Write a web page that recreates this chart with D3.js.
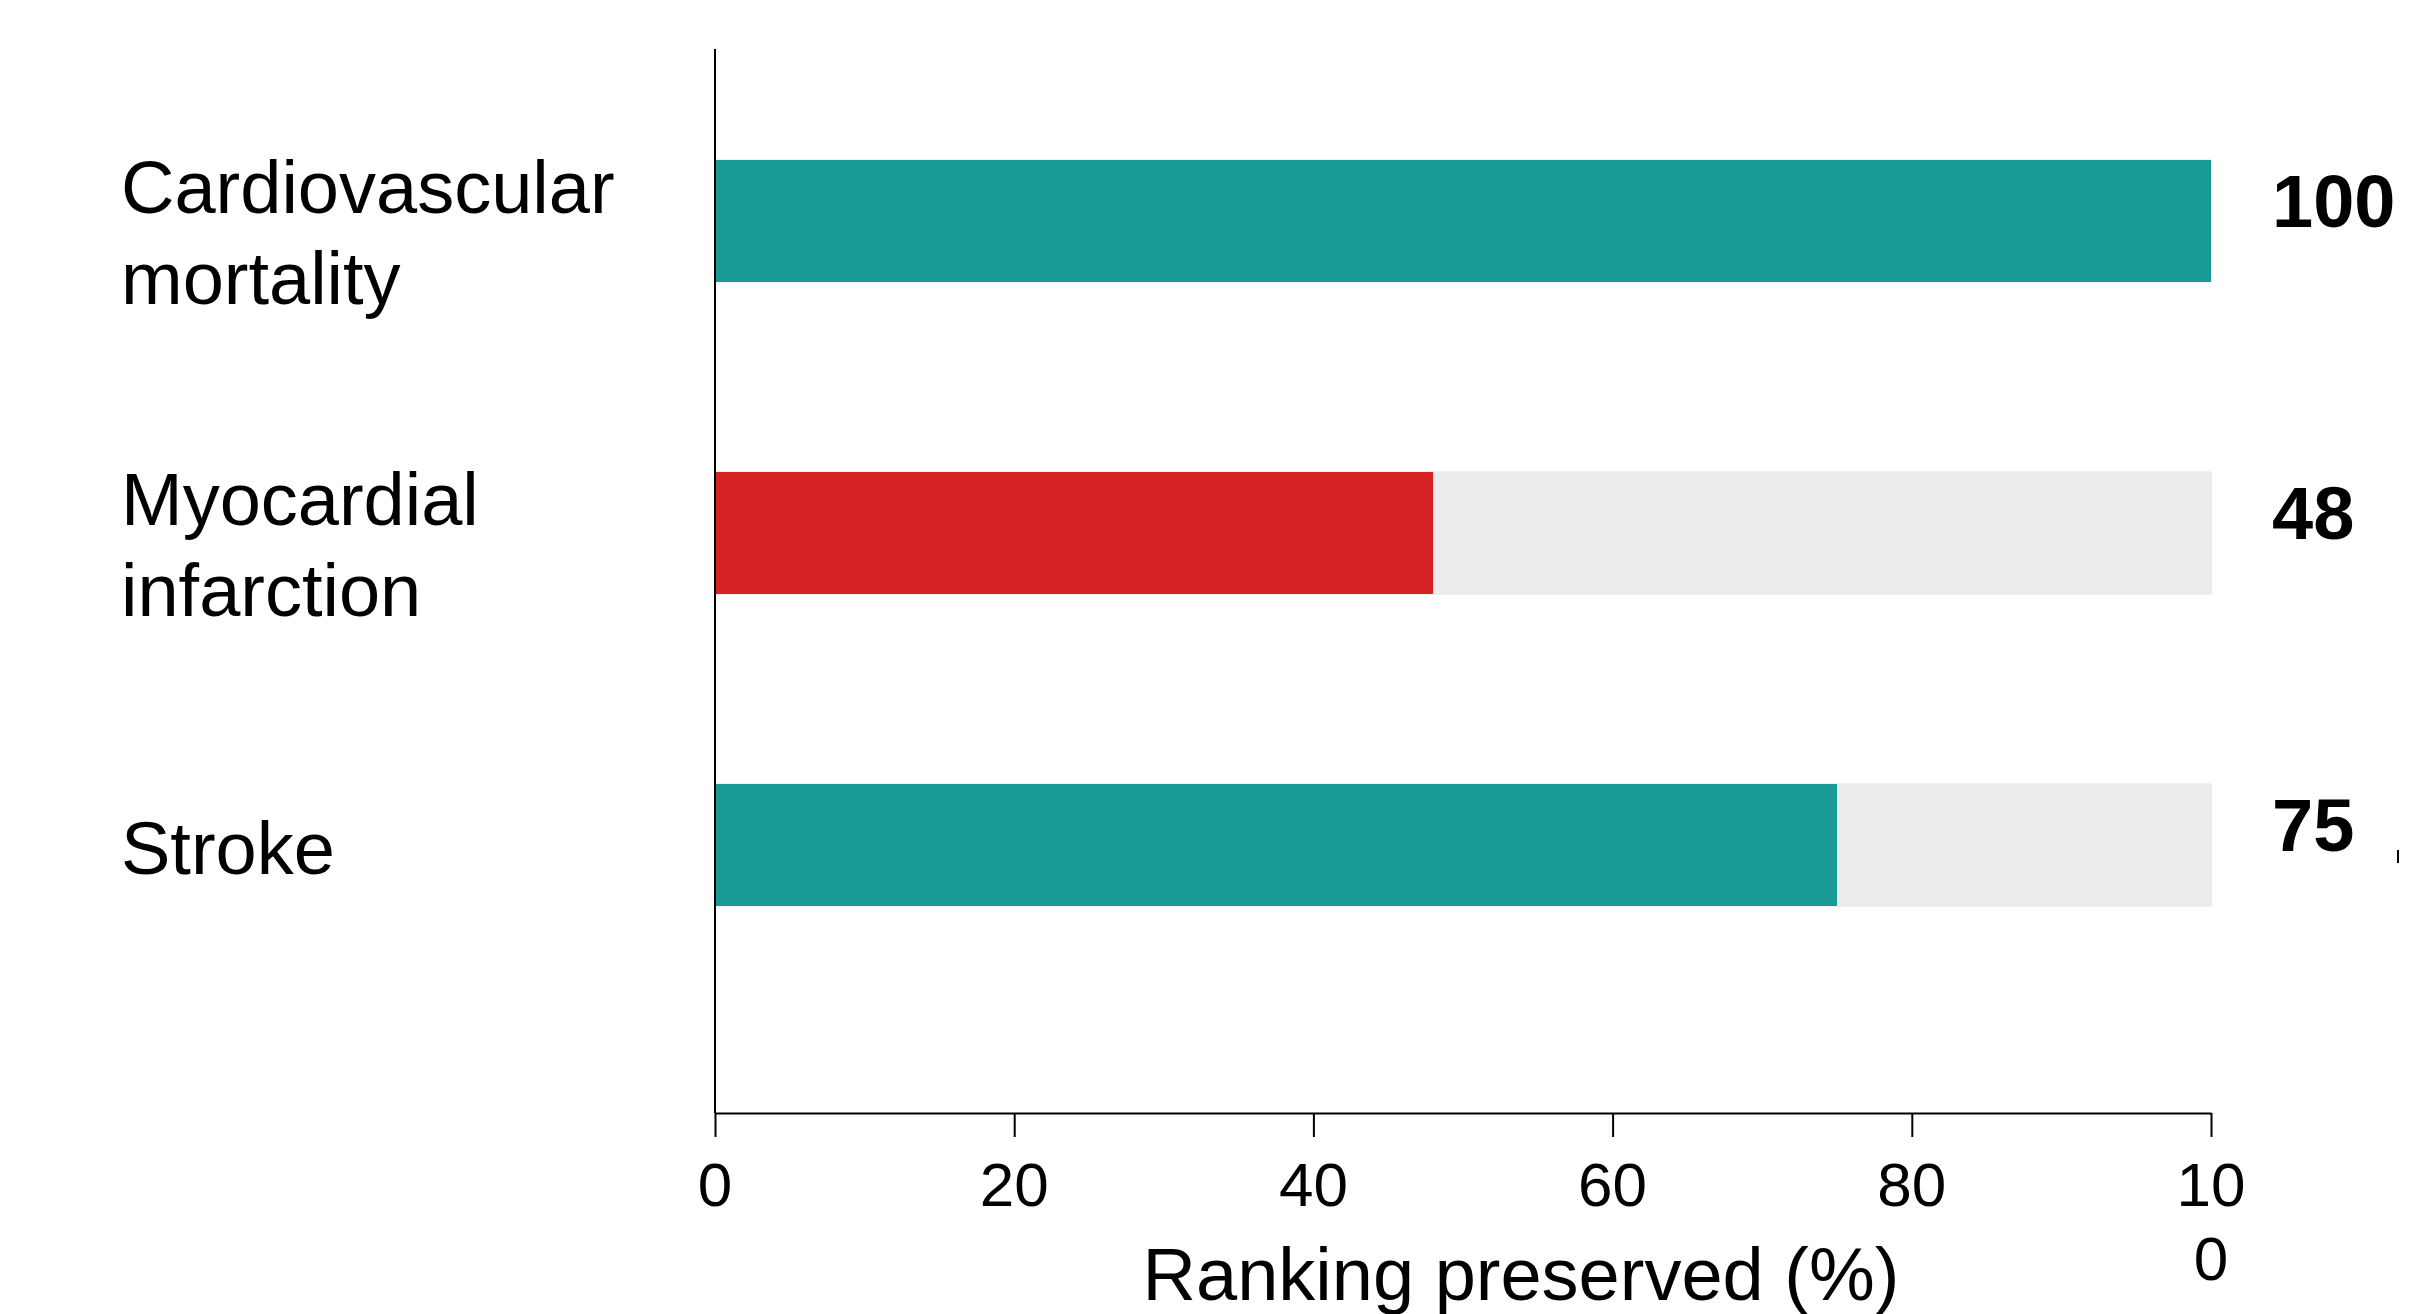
<!DOCTYPE html>
<html>
<head>
<meta charset="utf-8">
<script src="https://cdn.jsdelivr.net/npm/d3@7"></script>
<style>
  html, body { margin: 0; padding: 0; background: #fff; }
  svg text { font-family: "Liberation Sans", Arial, sans-serif; }
</style>
</head>
<body>
<svg id="chart" width="2433" height="1314"></svg>
<script>
// ── DATA ────────────────────────────────────────────
const categories = [['Cardiovascular', 'mortality'], ['Myocardial', 'infarction'], ['Stroke']];
const keys       = ['cvd', 'mi', 'stroke'];
const values     = [100, 48, 75];
const barColors  = ['#1A9A97', '#D42322', '#1A9A97'];
const xTicks     = [0, 20, 40, 60, 80, 100];
const xTitle     = 'Ranking preserved (%)';

const svg = d3.select('#chart');
const W = 2433, H = 1314;

// scales
const x = d3.scaleLinear().domain([0, 100]).range([715, 2211]);
const y = d3.scaleBand().domain(keys).range([65, 1001]).paddingInner(0.609).paddingOuter(0.3045);

const axisTop = 49, axisBottom = 1113;

// background tracks
svg.append('g').selectAll('rect')
  .data(keys)
  .enter().append('rect')
  .attr('x', x(0)).attr('y', k => y(k))
  .attr('width', x(100) - x(0)).attr('height', y.bandwidth())
  .attr('fill', '#ECECEC').attr('stroke', '#E2E2E2').attr('stroke-width', 1);

// bars
svg.append('g').selectAll('rect')
  .data(values)
  .enter().append('rect')
  .attr('x', x(0)).attr('y', (v, i) => y(keys[i]))
  .attr('width', v => x(v) - x(0)).attr('height', y.bandwidth())
  .attr('fill', (v, i) => barColors[i]);

// value labels
svg.append('g').selectAll('text')
  .data(values)
  .enter().append('text')
  .attr('x', x(100) + 61)
  .attr('y', (v, i) => y(keys[i]) + y.bandwidth() / 2 + 6)
  .attr('font-size', '74px').attr('font-weight', 'bold').attr('fill', '#000')
  .text(v => v);

// category labels
categories.forEach((lines, i) => {
  const cy = y(keys[i]) + y.bandwidth() / 2;
  const t = svg.append('text').attr('font-size', '74px').attr('fill', '#000');
  if (lines.length === 1) {
    t.append('tspan').attr('x', 121).attr('y', cy + 29).text(lines[0]);
  } else {
    lines.forEach((ln, j) => {
      t.append('tspan').attr('x', 121).attr('y', cy - 8 + j * 91).text(ln);
    });
  }
});

// y axis line
svg.append('line')
  .attr('x1', x(0)).attr('x2', x(0))
  .attr('y1', axisTop).attr('y2', axisBottom)
  .attr('stroke', '#000').attr('stroke-width', 2);

// x axis
const xAxis = svg.append('g')
  .attr('transform', `translate(0,${axisBottom})`)
  .call(d3.axisBottom(x).tickValues(xTicks).tickSize(24).tickSizeOuter(0).tickFormat(() => ''));
xAxis.select('.domain').attr('stroke', '#000').attr('stroke-width', 2);
xAxis.selectAll('.tick line').attr('stroke', '#000').attr('stroke-width', 2);

// tick labels ("100" wraps onto two lines like the original)
xTicks.forEach(t => {
  const s = String(t);
  const lines = s.length > 2 ? [s.slice(0, 2), s.slice(2)] : [s];
  const txt = svg.append('text')
    .attr('text-anchor', 'middle').attr('font-size', '62px').attr('fill', '#000');
  lines.forEach((ln, j) => {
    txt.append('tspan').attr('x', x(t)).attr('y', 1206 + j * 74).text(ln);
  });
});

// axis title
svg.append('text')
  .attr('x', 1521).attr('y', 1300)
  .attr('text-anchor', 'middle').attr('font-size', '74px').attr('fill', '#000')
  .text(xTitle);

// small stray mark at right edge
svg.append('line')
  .attr('x1', 2398).attr('x2', 2398).attr('y1', 850).attr('y2', 863)
  .attr('stroke', '#000').attr('stroke-width', 2);
</script>
</body>
</html>
